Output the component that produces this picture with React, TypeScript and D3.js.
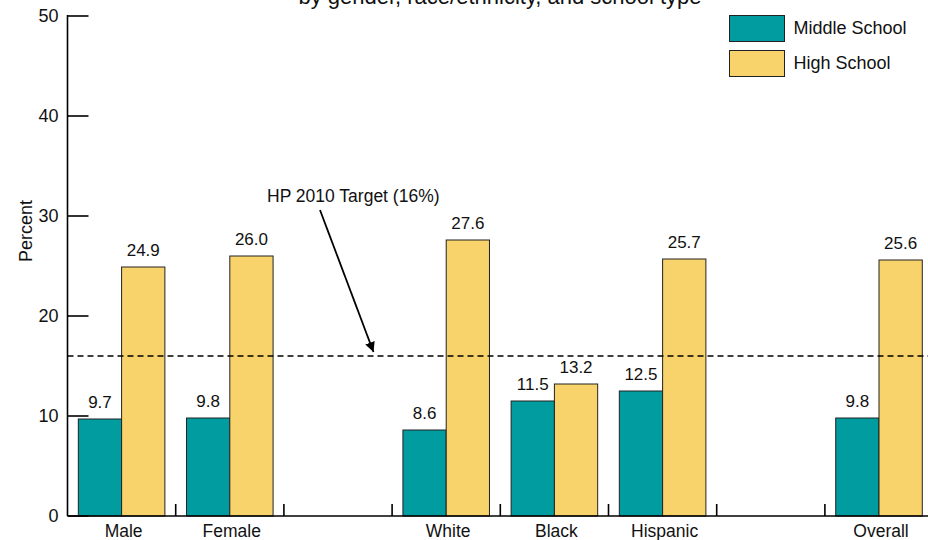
import React from "react";
import * as d3 from "d3";

const categories = ["Male", "Female", "gap1", "White", "Black", "Hispanic", "gap2", "Overall"];
const categoryLabels = ["Male", "Female", "", "White", "Black", "Hispanic", "", "Overall"];
const middleSchool: (number | null)[] = [9.7, 9.8, null, 8.6, 11.5, 12.5, null, 9.8];
const highSchool: (number | null)[] = [24.9, 26.0, null, 27.6, 13.2, 25.7, null, 25.6];
const seriesNames = ["Middle School", "High School"];
const seriesColors = ["#009CA0", "#F8D26A"];
const yTicks = [0, 10, 20, 30, 40, 50];
const targetValue = 16;
const targetLabel = "HP 2010 Target (16%)";
const titleText = "by gender, race/ethnicity, and school type";
const yLabel = "Percent";

const W = 928;
const H = 540;
const FONT = "'Liberation Sans', Arial, Helvetica, sans-serif";

export default function App() {
  const axisX = 67.5;
  const x = d3.scaleBand<string>().domain(categories).range([axisX, axisX + 8 * 108.2]).padding(0);
  const xi = d3.scaleBand<string>().domain(["m", "h"]).range([0, x.bandwidth()]).paddingInner(0).paddingOuter(0.25);
  const y = d3.scaleLinear().domain([0, 50]).range([516, 16]);

  const series = [middleSchool, highSchool];
  const keys = ["m", "h"];
  const yT = y(targetValue);

  return (
    <svg
      width={W}
      height={H}
      style={{ position: "absolute", left: 0, top: 0, display: "block", background: "#fff" }}
      fontFamily={FONT}
    >
      <defs>
        <marker id="arr" viewBox="0 0 10 10" refX="10" refY="5" markerWidth="10" markerHeight="14" markerUnits="userSpaceOnUse" orient="auto">
          <path d="M0,0 L10,5 L0,10 Z" fill="#000" />
        </marker>
      </defs>
      <text x={500} y={3.5} fontSize={22} textAnchor="middle" fill="#111">{titleText}</text>

      {/* bars */}
      {categories.map((c, i) =>
        series.map((s, si) => {
          const v = s[i];
          if (v == null) return null;
          const bx = (x(c) as number) + (xi(keys[si]) as number);
          const bw = xi.bandwidth();
          return (
            <g key={c + si}>
              <rect x={bx} y={y(v)} width={bw} height={y(0) - y(v)} fill={seriesColors[si]} stroke="#222" strokeWidth={1} />
              <text x={bx + bw / 2} y={y(v) - 11} fontSize={17} textAnchor="middle" fill="#111">{v.toFixed(1)}</text>
            </g>
          );
        })
      )}

      {/* target line */}
      <line x1={axisX} x2={W} y1={yT} y2={yT} stroke="#000" strokeWidth={1.6} strokeDasharray="6,4" />

      {/* y axis */}
      <line x1={axisX} x2={axisX} y1={y(50) - 1} y2={y(0)} stroke="#000" strokeWidth={1.6} />
      {yTicks.map((t) => (
        <g key={t}>
          <line x1={axisX} x2={axisX + 21} y1={y(t)} y2={y(t)} stroke="#000" strokeWidth={1.6} />
          <text x={axisX - 9} y={y(t) + 6} fontSize={18} textAnchor="end" fill="#111">{t}</text>
        </g>
      ))}
      <text transform={`translate(32,${231}) rotate(-90)`} fontSize={18} textAnchor="middle" fill="#111">{yLabel}</text>

      {/* x axis */}
      <line x1={axisX} x2={W} y1={y(0)} y2={y(0)} stroke="#000" strokeWidth={1.6} />
      {categories.slice(0, 7).map((c) => {
        const tx = (x(c) as number) + x.bandwidth();
        return <line key={"t" + c} x1={tx} x2={tx} y1={y(0)} y2={y(0) - 12} stroke="#000" strokeWidth={1.6} />;
      })}
      {categories.map((c, i) => (
        <text key={"l" + c} x={(x(c) as number) + x.bandwidth() / 2 + 2} y={537} fontSize={17.5} textAnchor="middle" fill="#111">
          {categoryLabels[i]}
        </text>
      ))}

      {/* annotation */}
      <text x={267} y={201.5} fontSize={17.5} fill="#111">{targetLabel}</text>
      <line x1={320} y1={210} x2={373.5} y2={yT - 4} stroke="#000" strokeWidth={1.8} markerEnd="url(#arr)" />

      {/* legend */}
      {seriesNames.map((n, i) => (
        <g key={n} transform={`translate(729.5,${15.5 + i * 35})`}>
          <rect width={55} height={26} fill={seriesColors[i]} stroke="#222" strokeWidth={1} />
          <text x={64} y={18} fontSize={18} fill="#111">{n}</text>
        </g>
      ))}
    </svg>
  );
}
